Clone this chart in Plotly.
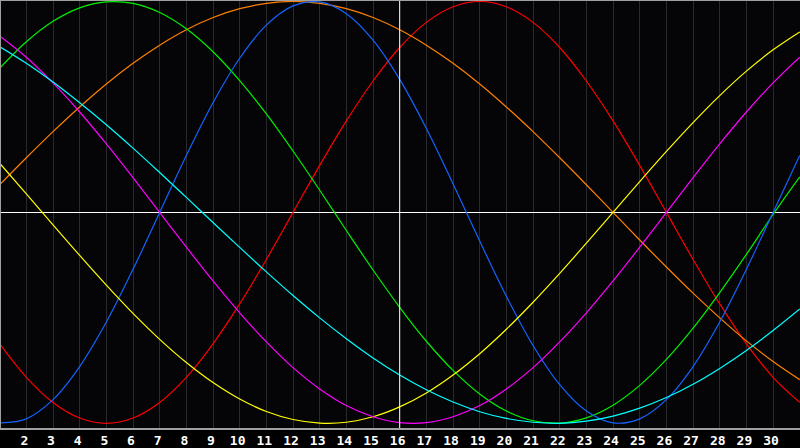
import plotly.graph_objects as go

# sample positions along the x axis
x_vals = list(range(1, 32))

# values, one per integer x (1..31)
red = [-0.623, -0.782, -0.901, -0.975, -1.0, -0.975, -0.901, -0.782, -0.623, -0.434,
       -0.223, 0.0, 0.223, 0.434, 0.623, 0.782, 0.901, 0.975, 1.0, 0.975,
       0.901, 0.782, 0.623, 0.434, 0.223, 0.0, -0.223, -0.434, -0.623, -0.782, -0.901]
orange = [0.131, 0.259, 0.383, 0.5, 0.609, 0.707, 0.793, 0.866, 0.924, 0.966,
          0.991, 1.0, 0.991, 0.966, 0.924, 0.866, 0.793, 0.707, 0.609, 0.5,
          0.383, 0.259, 0.131, 0.0, -0.131, -0.259, -0.383, -0.5, -0.609, -0.707, -0.793]
green = [0.683, 0.809, 0.906, 0.970, 0.998, 0.991, 0.948, 0.871, 0.762, 0.625,
         0.467, 0.291, 0.105, -0.086, -0.273, -0.450, -0.611, -0.749, -0.861, -0.942,
         -0.988, -0.999, -0.974, -0.914, -0.820, -0.697, -0.549, -0.380, -0.199, -0.010, 0.168]
blue = [-0.998, -0.979, -0.888, -0.731, -0.520, -0.270, 0.0, 0.270, 0.520, 0.731,
        0.888, 0.979, 0.998, 0.942, 0.817, 0.631, 0.398, 0.136, -0.136, -0.398,
        -0.631, -0.817, -0.942, -0.998, -0.979, -0.888, -0.731, -0.520, -0.270, 0.0, 0.270]
yellow = [0.233, 0.088, -0.059, -0.204, -0.345, -0.479, -0.602, -0.712, -0.807, -0.885,
          -0.944, -0.982, -0.999, -0.995, -0.969, -0.922, -0.856, -0.771, -0.670, -0.554,
          -0.426, -0.289, -0.146, 0.0, 0.146, 0.289, 0.426, 0.554, 0.670, 0.771, 0.856]
magenta = [0.837, 0.736, 0.614, 0.476, 0.325, 0.165, 0.0, -0.165, -0.325, -0.476,
           -0.614, -0.736, -0.837, -0.916, -0.969, -0.997, -0.997, -0.969, -0.916, -0.837,
           -0.736, -0.614, -0.476, -0.325, -0.165, 0.0, 0.165, 0.325, 0.476, 0.614, 0.736]
cyan = [0.786, 0.707, 0.618, 0.520, 0.416, 0.305, 0.189, 0.071, -0.048, -0.166,
        -0.282, -0.394, -0.5, -0.599, -0.690, -0.771, -0.841, -0.899, -0.945, -0.977,
        -0.995, -1.0, -0.990, -0.966, -0.928, -0.878, -0.815, -0.740, -0.655, -0.560, -0.458]

tick_vals = list(range(2, 31))
center_x = 16

series = [
    (red, "#ff0000"),
    (orange, "#ff8000"),
    (green, "#00f000"),
    (blue, "#1464ff"),
    (yellow, "#ffff00"),
    (magenta, "#ff00ff"),
    (cyan, "#00ffff"),
]

fig = go.Figure()
for ys, col in series:
    fig.add_trace(go.Scatter(
        x=x_vals, y=ys, mode="lines",
        line=dict(color=col, width=1.2, shape="spline"),
        hoverinfo="skip"
    ))

# white crosshair at the middle
fig.add_shape(type="line", xref="x", yref="paper", x0=center_x, x1=center_x, y0=0, y1=1,
              line=dict(color="#ffffff", width=1))

fig.update_layout(
    width=800, height=448,
    margin=dict(l=1, r=0, t=1, b=20),
    paper_bgcolor="#000000",
    plot_bgcolor="#050508",
    showlegend=False,
    xaxis=dict(
        range=[1.05, 31.01],
        tickvals=tick_vals,
        ticktext=[str(v) for v in tick_vals],
        showgrid=True, gridcolor="#2a2a2e", gridwidth=1,
        zeroline=False,
        showline=True, linecolor="#a0a0a0", linewidth=1.5, mirror=True,
        ticks="", ticklabelshift=-2,
        tickfont=dict(family="DejaVu Sans Mono", size=13, color="#ffffff", weight="bold"),
    ),
    yaxis=dict(
        range=[-1.0223, 1.0024],
        showgrid=False, showticklabels=False, ticks="",
        zeroline=True, zerolinecolor="#ffffff", zerolinewidth=1,
        showline=True, linecolor="#a0a0a0", linewidth=1.5,
    ),
)

fig.write_html("out.html", config={"displayModeBar": False},
               post_script="document.body.style.margin='0';document.body.style.background='#000';")
